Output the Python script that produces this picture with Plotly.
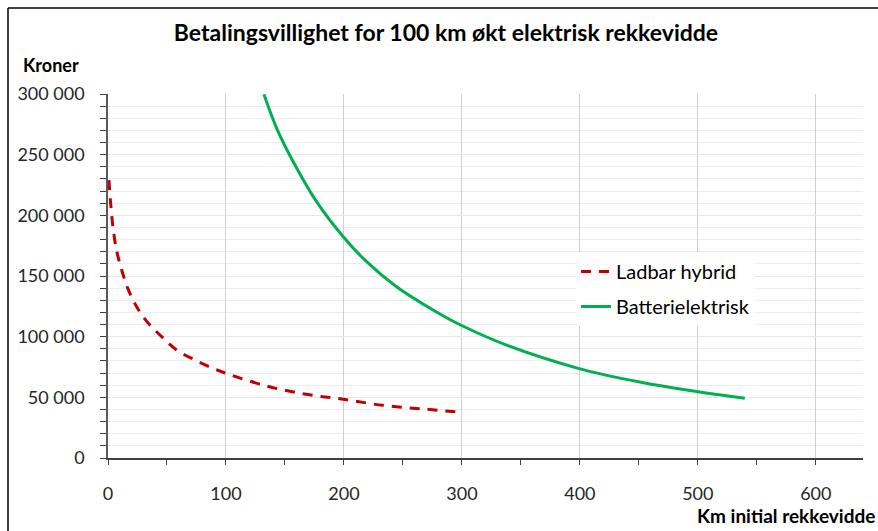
import plotly.graph_objects as go

# Data
hybrid_km = [0.8, 2.5, 4.5, 7.3, 11.6, 16.7, 24.3, 34.2, 45.5, 58.2, 73.7, 89, 101, 134.5, 168, 199.4, 233, 267, 300]
hybrid_kr = [229000, 207000, 188000, 171000, 155000, 140000, 124700, 111000, 100000, 89000, 80800, 73900, 69500, 59300, 52500, 48400, 43400, 40400, 37700]

battery_km = [132.2, 143, 157, 176.8, 199.4, 219.2, 244.6, 281.4, 298.9, 337.9, 398.6, 450.8, 498.9, 539.8]
battery_kr = [299700, 271700, 244200, 211300, 182400, 161800, 141200, 118700, 109600, 93000, 73900, 62600, 54800, 49200]

y_tickvals = [0, 50000, 100000, 150000, 200000, 250000, 300000]
y_ticktext = ["0", "50 000", "100 000", "150 000", "200 000", "250 000", "300 000"]
x_tickvals = [0, 100, 200, 300, 400, 500, 600]

FONT = "Lato"
TXT = "#262626"

fig = go.Figure()
fig.add_trace(go.Scatter(
    x=hybrid_km, y=hybrid_kr, mode="lines", name="Ladbar hybrid", legendgroup="a",
    line=dict(color="#C00000", width=3, dash="10px,8px", shape="spline"),
))
fig.add_trace(go.Scatter(
    x=battery_km, y=battery_kr, mode="lines", name="Batterielektrisk", legendgroup="b",
    line=dict(color="#00B050", width=3, shape="spline"),
))

W, H = 878, 531
L, R, T, B = 108, 863, 94, 458
pw, ph = R - L, B - T

def px_x(p):
    return (p - L) / pw

def px_y(p):
    return (B - p) / ph

fig.update_layout(
    width=W, height=H,
    margin=dict(l=L, r=W - R, t=T, b=H - B),
    paper_bgcolor="white", plot_bgcolor="white",
    font=dict(family=FONT, size=17, color=TXT),
    showlegend=True,
    legend=dict(
        x=px_x(576), y=px_y(252), xanchor="left", yanchor="top",
        bgcolor="white", borderwidth=0,
        font=dict(family=FONT, size=20, color="#000000"),
        itemwidth=30, traceorder="grouped", tracegroupgap=6,
    ),
    title=dict(
        text="<b>Betalingsvillighet for 100 km økt elektrisk rekkevidde</b>",
        x=px_x(446), xref="paper", xanchor="center",
        y=1 - 33 / H, yanchor="middle",
        font=dict(family=FONT, size=23, color="#000000"),
    ),
    xaxis=dict(
        range=[0, 640], tickvals=x_tickvals,
        showgrid=True, gridcolor="#d0d0d0", gridwidth=1,
        showline=True, linecolor="#404040", linewidth=1.5,
        ticks="outside", ticklen=5, tickcolor="#404040",
        ticklabelstandoff=14,
        minor=dict(dtick=50, ticks="outside", ticklen=5, tickcolor="#404040", showgrid=False),
        zeroline=False,
        tickfont=dict(family=FONT, size=18, color=TXT),
    ),
    yaxis=dict(
        range=[0, 300000], tickvals=y_tickvals, ticktext=y_ticktext,
        showgrid=True, gridcolor="#e8e8e8", gridwidth=1,
        showline=True, linecolor="#595959", linewidth=1.5,
        ticks="outside", ticklen=6, tickcolor="#404040",
        ticklabelstandoff=12,
        minor=dict(dtick=10000, ticks="outside", ticklen=6, tickcolor="#404040",
                   showgrid=True, gridcolor="#ececec", gridwidth=1),
        zeroline=False,
        tickfont=dict(family=FONT, size=18, color=TXT),
    ),
)

fig.add_annotation(
    text="<b>Kroner</b>", xref="paper", yref="paper",
    x=px_x(21), y=px_y(65), xanchor="left", yanchor="middle",
    showarrow=False, font=dict(family=FONT, size=18, color="#000000"),
)
fig.add_annotation(
    text="<b>Km initial rekkevidde</b>", xref="paper", yref="paper",
    x=px_x(877), y=px_y(515), xanchor="right", yanchor="middle",
    showarrow=False, font=dict(family=FONT, size=19, color="#000000"),
)

# chart frame (left and top edges)
fig.add_shape(type="line", xref="paper", yref="paper",
              x0=px_x(8), x1=px_x(8), y0=px_y(8), y1=px_y(540),
              line=dict(color="black", width=1.5))
fig.add_shape(type="line", xref="paper", yref="paper",
              x0=px_x(8), x1=px_x(890), y0=px_y(8), y1=px_y(8),
              line=dict(color="black", width=1.5))

fig.write_html(
    "out.html",
    config={"displayModeBar": False},
    post_script="document.body.style.margin='0';document.body.style.overflow='hidden';",
)
